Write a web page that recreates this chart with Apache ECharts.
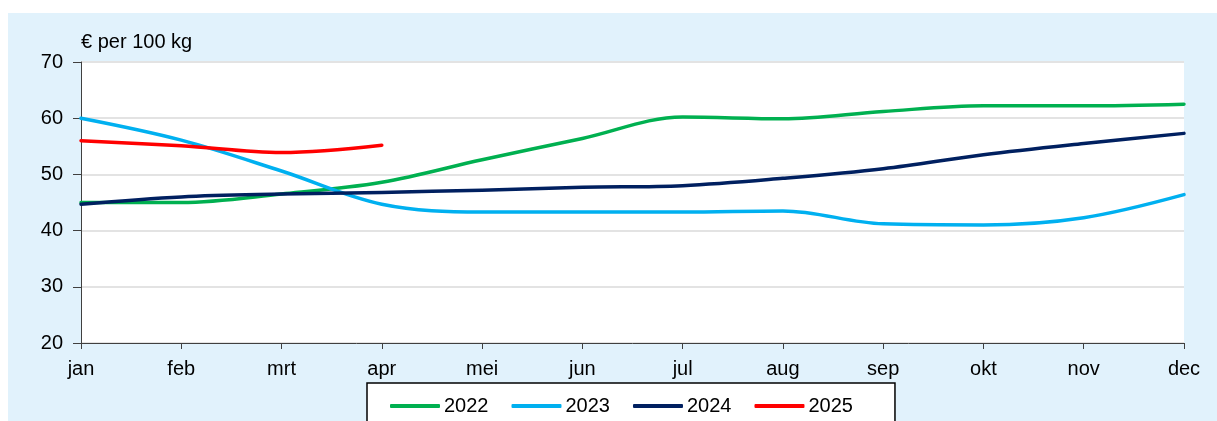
<!DOCTYPE html>
<html><head><meta charset="utf-8">
<script src="https://cdn.jsdelivr.net/npm/echarts@6/dist/echarts.min.js"></script>
<style>html,body{margin:0;padding:0;background:#fff}#c{width:1217px;height:421px}</style>
</head><body><div id="c"></div>
<script>
const months = ['jan','feb','mrt','apr','mei','jun','jul','aug','sep','okt','nov','dec'];
const y2022 = [45.0, 45.0, 46.5, 48.6, 52.6, 56.4, 60.2, 59.9, 61.2, 62.2, 62.2, 62.5];
const y2023 = [60.0, 56.1, 50.6, 44.7, 43.3, 43.3, 43.3, 43.5, 41.2, 41.0, 42.3, 46.4];
const y2024 = [44.7, 46.0, 46.5, 46.8, 47.2, 47.7, 48.0, 49.3, 51.0, 53.5, 55.5, 57.3];
const y2025 = [56.0, 55.1, 53.9, 55.2];
const yTicks = [20, 30, 40, 50, 60, 70];

const chart = echarts.init(document.getElementById('c'));
const font = 'Liberation Sans, Arial, sans-serif';
function line(name, data, color) {
  return { name, type: 'line', data, smooth: 0.35, symbol: 'none',
    lineStyle: { color, width: 3.5, cap: 'round', join: 'round' }, itemStyle: { color } };
}
chart.setOption({
  animation: false,
  textStyle: { fontFamily: font },
  graphic: [{ type: 'rect', z: -10, shape: { x: 8, y: 13, width: 1209, height: 408 },
    style: { fill: '#E1F2FC' } }],
  grid: { left: 81, right: 33, top: 62, bottom: 78, show: true, backgroundColor: '#fff', borderWidth: 0 },
  xAxis: { type: 'category', data: months, boundaryGap: false,
    axisLine: { lineStyle: { color: '#404040', width: 1 } },
    axisTick: { show: true, alignWithLabel: true, length: 6, lineStyle: { color: '#404040' } },
    axisLabel: { color: '#000', fontSize: 20, margin: 16, fontFamily: font },
    splitLine: { show: false } },
  yAxis: { type: 'value', min: 20, max: 70, interval: 10,
    name: '€ per 100 kg', nameLocation: 'end', nameGap: 10,
    nameTextStyle: { color: '#000', fontSize: 20, align: 'left', padding: [0, 0, 0, 0], fontFamily: font },
    axisLine: { show: true, lineStyle: { color: '#404040', width: 1 } },
    axisTick: { show: true, length: 8, lineStyle: { color: '#404040' } },
    axisLabel: { color: '#000', fontSize: 20, margin: 18, fontFamily: font,
      formatter: v => yTicks.includes(v) ? String(v) : '' },
    splitLine: { show: true, lineStyle: { color: '#E3E3E3', width: 2 } } },
  legend: { left: 367, top: 383, itemWidth: 50, itemHeight: 4, itemGap: 23,
    icon: 'roundRect',
    backgroundColor: '#fff', borderColor: '#000', borderWidth: 1.5, borderRadius: 0,
    padding: [13, 42, 16, 23],
    textStyle: { color: '#000', fontSize: 20, fontFamily: font, padding: [0, 0, 0, -1] },
    data: ['2022', '2023', '2024', '2025'] },
  series: [
    line('2022', y2022, '#00B050'),
    line('2023', y2023, '#00B0F0'),
    line('2024', y2024, '#002060'),
    line('2025', y2025, '#FF0000')
  ]
});
</script></body></html>
